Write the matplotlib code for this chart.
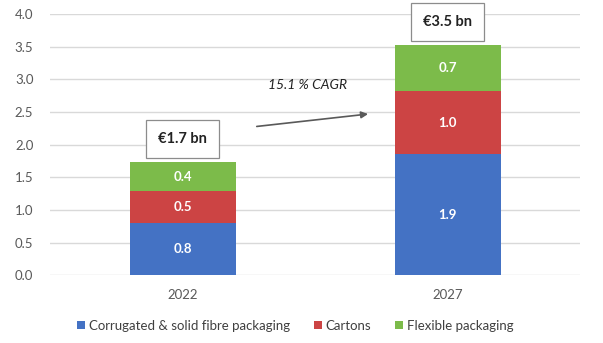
import matplotlib.pyplot as plt
from matplotlib.patches import Patch

# Market size by segment, EUR bn
years = ["2022", "2027"]
corrugated = [0.80, 1.86]
cartons = [0.49, 0.96]
flexible = [0.44, 0.70]
totals = [1.7, 3.5]
cagr_label = "15.1 % CAGR"

seg_names = ["Corrugated & solid fibre packaging", "Cartons", "Flexible packaging"]
seg_colors = ["#4472C4", "#CC4444", "#7CBB4A"]
series = [corrugated, cartons, flexible]

plt.rcParams.update({
    "font.family": ["Lato", "DejaVu Sans"],
    "font.size": 9,
})

fig = plt.figure(figsize=(6.03, 3.43), dpi=100)
ax = fig.add_axes([0.083, 0.197, 0.879, 0.762])

x = list(range(len(years)))
bottom = [0.0] * len(years)
for vals, col in zip(series, seg_colors):
    ax.bar(x, vals, width=0.4, bottom=bottom, color=col, zorder=2)
    for xi, b, v in zip(x, bottom, vals):
        ax.text(xi, b + v / 2, f"{v:.1f}", ha="center", va="center",
                color="white", fontsize=9.5, fontweight="bold", zorder=3)
    bottom = [b + v for b, v in zip(bottom, vals)]

# total boxes above each stack
for xi, top, tot in zip(x, bottom, totals):
    ax.text(xi, top + 0.36, f"€{tot:.1f} bn", ha="center", va="center",
            fontsize=10.5, fontweight="bold", color="#222222", zorder=4,
            bbox=dict(boxstyle="square,pad=0.8", fc="white", ec="#8C8C8C", lw=0.9))

# growth arrow
ax.annotate("", xy=(0.70, 2.47), xytext=(0.28, 2.28),
            arrowprops=dict(arrowstyle="-|>", color="#595959", lw=1.2,
                            mutation_scale=10, shrinkA=0, shrinkB=0))
ax.text(0.47, 2.91, cagr_label, ha="center", va="center",
        fontsize=10, style="italic", color="#222222")

ax.set_xlim(-0.5, 1.5)
ax.set_ylim(0, 4.0)
ax.set_yticks([i * 0.5 for i in range(9)])
ax.yaxis.set_major_formatter(plt.FuncFormatter(lambda v, _: f"{v:.1f}"))
ax.set_xticks(x)
ax.set_xticklabels(years)
ax.tick_params(axis="both", length=0, colors="#595959", labelsize=9.5)
ax.tick_params(axis="x", pad=10)
ax.tick_params(axis="y", pad=12)
ax.grid(axis="y", color="#D9D9D9", lw=1.0, zorder=0)
for s in ax.spines.values():
    s.set_visible(False)

handles = [Patch(facecolor=c, edgecolor="none") for c in seg_colors]
fig.legend(handles, seg_names, loc="center", bbox_to_anchor=(0.49, 0.05),
           ncol=3, frameon=False, fontsize=9.5, handlelength=0.6, handleheight=0.6,
           handletextpad=0.3, columnspacing=1.8, labelcolor="#404040")

fig.savefig("out.png", dpi=100)
